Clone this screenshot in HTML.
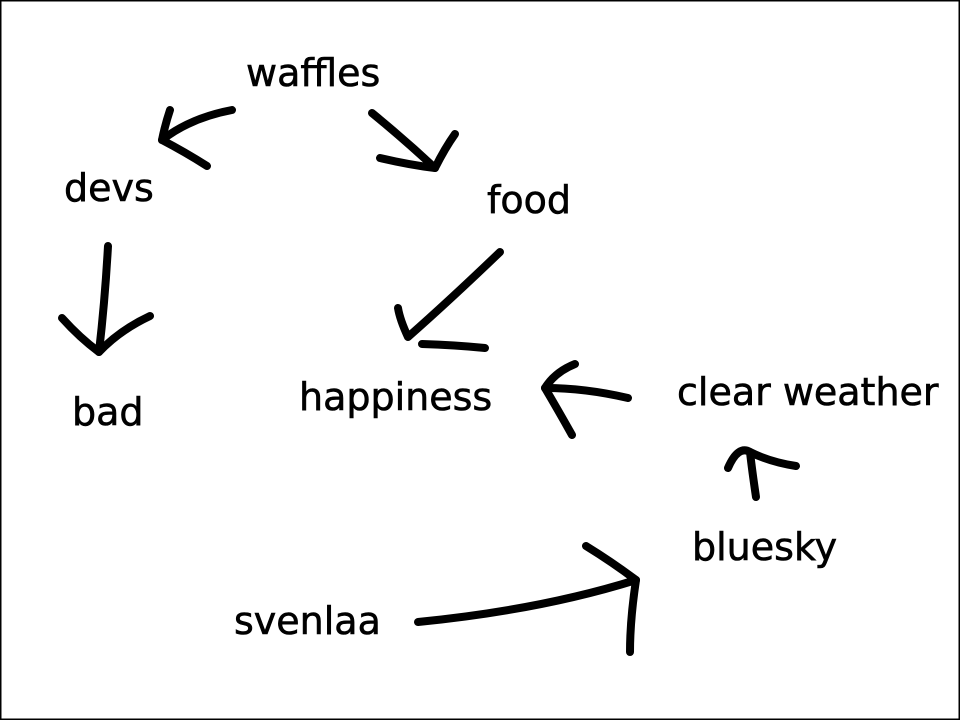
<!DOCTYPE html>
<html><head><meta charset="utf-8"><style>
html,body{margin:0;padding:0;background:#fff}
svg{display:block}
text{font-family:"DejaVu Sans","Liberation Sans",sans-serif;font-size:38px;fill:#000;stroke:#000;stroke-width:0.6}
</style></head><body>
<svg width="960" height="720" viewBox="0 0 960 720">
<rect x="0.5" y="0.5" width="959" height="719" fill="#fff" stroke="#000" stroke-width="2"/>
<text x="246" y="86">waffles</text>
<text x="64" y="201">devs</text>
<text x="487" y="213">food</text>
<text x="72" y="425">bad</text>
<text x="299" y="410">happiness</text>
<text x="677" y="405">clear weather</text>
<text x="692" y="560">bluesky</text>
<text x="234" y="634">svenlaa</text>
<g fill="none" stroke="#000" stroke-width="8" stroke-linecap="round" stroke-linejoin="round">
<path d="M232 110 Q190 118 162 140 Q185 152 207 166"/>
<path d="M162 140 Q165 125 170 110"/>
<path d="M372 113 Q405 140 435 168"/>
<path d="M380 158 Q410 165 435 168 Q445 148 455 134"/>
<path d="M108 246 Q105 300 99 352"/>
<path d="M62 318 Q80 338 99 352 Q120 330 150 316"/>
<path d="M500 252 Q450 300 408 337 Q400 320 398 308"/>
<path d="M422 344 Q455 345 485 348"/>
<path d="M628 398 Q585 388 545 388"/>
<path d="M575 364 Q555 372 545 388 Q558 410 572 435"/>
<path d="M756 497 Q752 470 750 452"/>
<path d="M728 468 Q738 445 750 452 Q770 462 796 466"/>
<path d="M418 622 Q540 610 636 580"/>
<path d="M586 546 Q612 562 636 580 Q630 620 630 652"/>
</g>
</svg>
</body></html>
